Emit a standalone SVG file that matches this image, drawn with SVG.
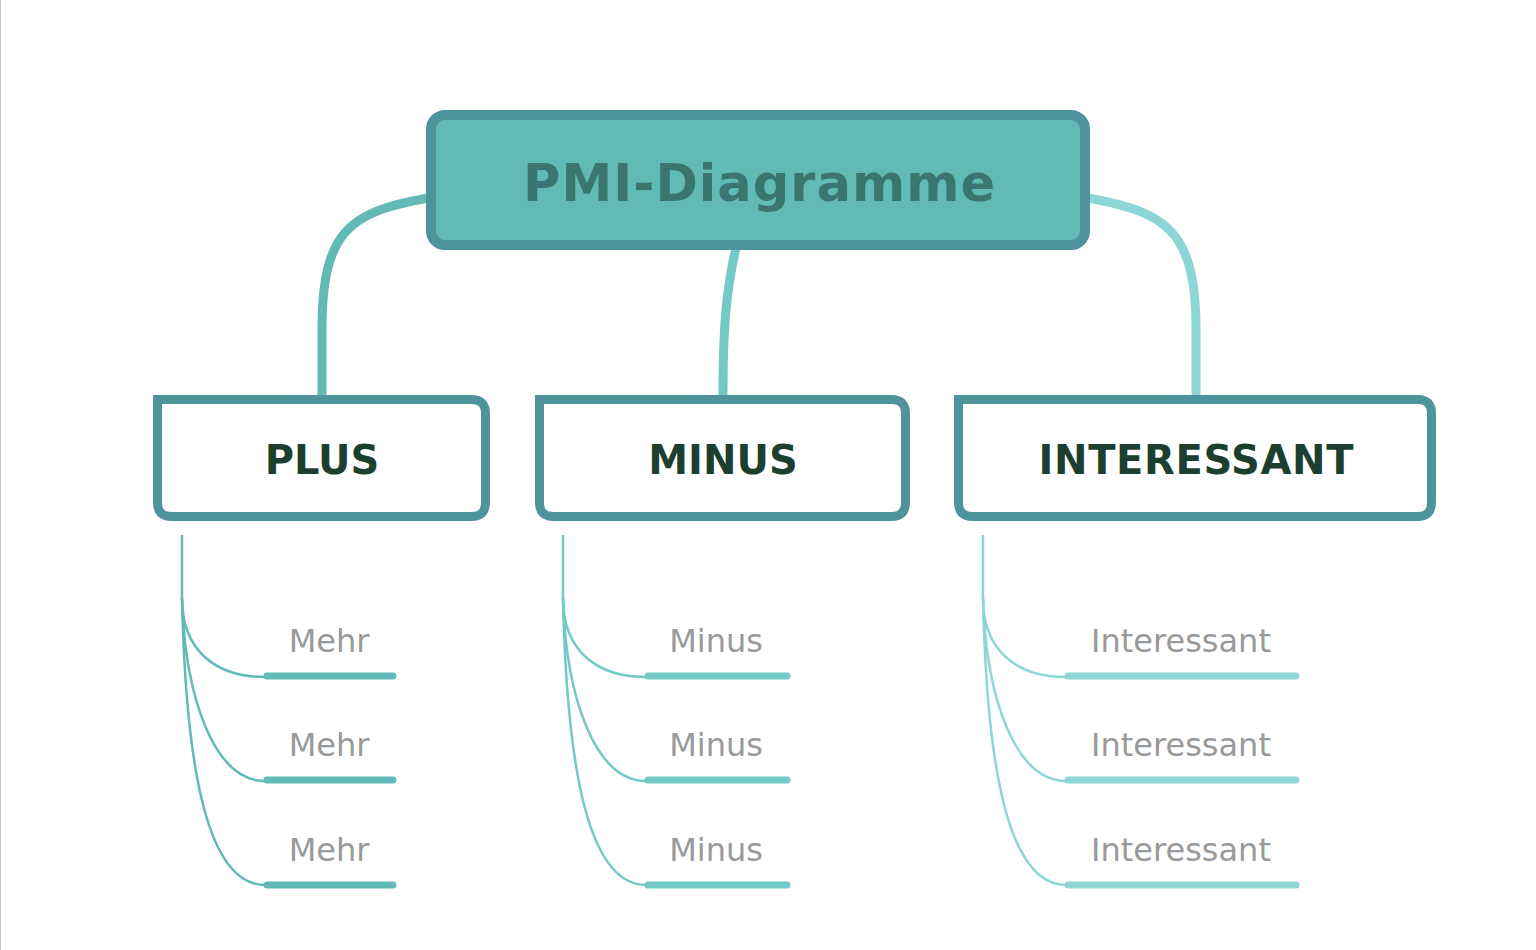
<svg xmlns="http://www.w3.org/2000/svg" width="1536" height="950" viewBox="0 0 1536 950">
<style>
.title{font-family:"DejaVu Sans",Verdana,sans-serif;font-weight:bold;font-size:51px;fill:#3a756f;text-anchor:middle}
.head{font-family:"DejaVu Sans",Verdana,sans-serif;font-weight:bold;font-size:40px;fill:#1c3f30;text-anchor:middle}
.leaf{font-family:"DejaVu Sans",Verdana,sans-serif;font-size:32px;fill:#999999;text-anchor:middle}
.box{fill:#ffffff;stroke:#4f939c;stroke-width:9}
.main{fill:none;stroke-width:9}
.sub{fill:none;stroke-width:2.5}
.ul{stroke-width:7;stroke-linecap:round}
</style>
<rect x="0" y="0" width="1536" height="950" fill="#ffffff"/>
<line x1="0.5" y1="0" x2="0.5" y2="950" stroke="#cccccc" stroke-width="1"/>
<g id="connectors">
  <path class="main" stroke="#62bab7" d="M428,198 C350,212 322,230 322,330 L322,396"/>
  <path class="main" stroke="#72c9c5" d="M736,248 C726,290 723,330 723,396"/>
  <path class="main" stroke="#8ed6d5" d="M1088,198 C1166,212 1196,230 1196,330 L1196,396"/>
  <g stroke="#62bab7">
    <path class="sub" d="M182,535 L182,598 C182,650 215,677 265,677"/>
    <path class="sub" d="M182,598 C185,700 215,781 265,781"/>
    <path class="sub" d="M182,598 C186,780 210,885 265,885"/>
    <line class="ul" x1="267" y1="676" x2="393" y2="676"/>
    <line class="ul" x1="267" y1="780" x2="393" y2="780"/>
    <line class="ul" x1="267" y1="885" x2="393" y2="885"/>
  </g>
  <g stroke="#72c9c5">
    <path class="sub" d="M563,535 L563,598 C563,650 596,677 646,677"/>
    <path class="sub" d="M563,598 C566,700 596,781 646,781"/>
    <path class="sub" d="M563,598 C567,780 591,885 646,885"/>
    <line class="ul" x1="648" y1="676" x2="787" y2="676"/>
    <line class="ul" x1="648" y1="780" x2="787" y2="780"/>
    <line class="ul" x1="648" y1="885" x2="787" y2="885"/>
  </g>
  <g stroke="#8ed6d5">
    <path class="sub" d="M983,535 L983,598 C983,650 1016,677 1066,677"/>
    <path class="sub" d="M983,598 C986,700 1016,781 1066,781"/>
    <path class="sub" d="M983,598 C987,780 1011,885 1066,885"/>
    <line class="ul" x1="1068" y1="676" x2="1296" y2="676"/>
    <line class="ul" x1="1068" y1="780" x2="1296" y2="780"/>
    <line class="ul" x1="1068" y1="885" x2="1296" y2="885"/>
  </g>
</g>
<g id="central">
  <rect x="431" y="115" width="654" height="130" rx="14" fill="#62bab7" stroke="#4f939c" stroke-width="10"/>
  <text class="title" x="759" y="201" textLength="472" lengthAdjust="spacing">PMI-Diagramme</text>
</g>
<g id="plus">
  <path class="box" d="M157.5,399.5 H471.5 Q485.5,399.5 485.5,413.5 V502.5 Q485.5,516.5 471.5,516.5 H171.5 Q157.5,516.5 157.5,502.5 Z"/>
  <text class="head" x="322" y="474">PLUS</text>
</g>
<g id="minus">
  <path class="box" d="M539.5,399.5 H891.5 Q905.5,399.5 905.5,413.5 V502.5 Q905.5,516.5 891.5,516.5 H553.5 Q539.5,516.5 539.5,502.5 Z"/>
  <text class="head" x="723" y="474">MINUS</text>
</g>
<g id="interessant">
  <path class="box" d="M958.5,399.5 H1417.5 Q1431.5,399.5 1431.5,413.5 V502.5 Q1431.5,516.5 1417.5,516.5 H972.5 Q958.5,516.5 958.5,502.5 Z"/>
  <text class="head" x="1196" y="474" textLength="315" lengthAdjust="spacing">INTERESSANT</text>
</g>
<g id="leaves">
  <text class="leaf" x="329" y="652">Mehr</text>
  <text class="leaf" x="329" y="756">Mehr</text>
  <text class="leaf" x="329" y="861">Mehr</text>
  <text class="leaf" x="716" y="652">Minus</text>
  <text class="leaf" x="716" y="756">Minus</text>
  <text class="leaf" x="716" y="861">Minus</text>
  <text class="leaf" x="1181" y="652">Interessant</text>
  <text class="leaf" x="1181" y="756">Interessant</text>
  <text class="leaf" x="1181" y="861">Interessant</text>
</g>
</svg>
